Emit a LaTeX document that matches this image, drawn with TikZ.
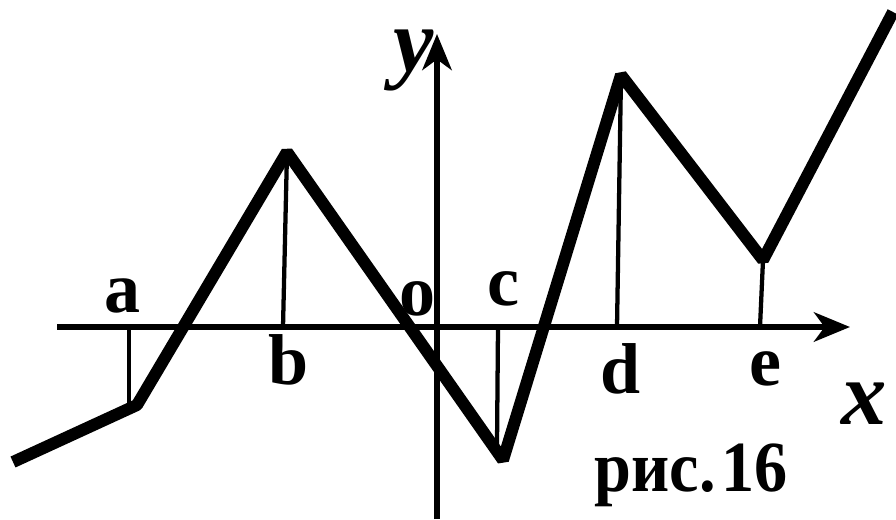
\documentclass[tikz,border=0pt]{standalone}
\usepackage{fontspec}
\setmainfont{Liberation Serif}
\usetikzlibrary{arrows.meta}
\begin{document}
\begin{tikzpicture}[x=0.75pt,y=-0.75pt,
  axis/.style={line width=4.5pt,-{Stealth[length=27pt,width=22pt,inset=8pt]}},
  graphline/.style={line width=9pt,line join=bevel},
  tick/.style={line width=3.2pt},
  lbl/.style={inner sep=0pt,font=\fontsize{54}{54}\selectfont\bfseries},
  axlbl/.style={inner sep=0pt,font=\fontsize{68}{68}\selectfont\bfseries\itshape}]
\useasboundingbox (0,0) rectangle (896,519);
% axes
\coordinate (xs) at (57,327);
\coordinate (xe) at (850,327);
\coordinate (ys) at (437,519);
\coordinate (ye) at (437,34);
\draw[axis] (xs) -- (xe);
\draw[axis] (ys) -- (ye);
% graph points
\coordinate (p0) at (13,462);
\coordinate (pa) at (137,405);
\coordinate (pb) at (287,152);
\coordinate (pc) at (503,460);
\coordinate (pd) at (621,75);
\coordinate (pe) at (763,260);
\coordinate (p1) at (893,12);
% foot points on x-axis
\coordinate (fa) at (129,327);
\coordinate (fb) at (283,327);
\coordinate (fc) at (498,327);
\coordinate (fd) at (617,327);
\coordinate (fe) at (760,327);
\coordinate (ta) at (129,405);
\coordinate (tc) at (497,445);
% thin lines
\draw[tick] (fa) -- (ta);
\draw[tick] (fb) -- (pb);
\draw[tick] (fc) -- (tc);
\draw[tick] (fd) -- (pd);
\draw[tick] (fe) -- (pe);
% graph
\draw[graphline] (p0) -- (pa) -- (pb) -- (pc) -- (pd) -- (pe) -- (p1);
% labels
\node[lbl] (la) at (122,296) {a};
\node[lbl] (lb) at (289,360) {b};
\node[lbl] (lo) at (417,299) {o};
\node[lbl] (lc) at (503,289) {c};
\node[lbl] (ld) at (621,369) {d};
\node[lbl] (le) at (765,369) {e};
\node[axlbl] (lx) at (864,404) {x};
\node[axlbl] (ly) at (414,60) {y};
\node[lbl] (cap) at (691,475) {\scalebox{0.92}[1]{рис.\hspace{0.08em}16}};
\end{tikzpicture}
\end{document}
